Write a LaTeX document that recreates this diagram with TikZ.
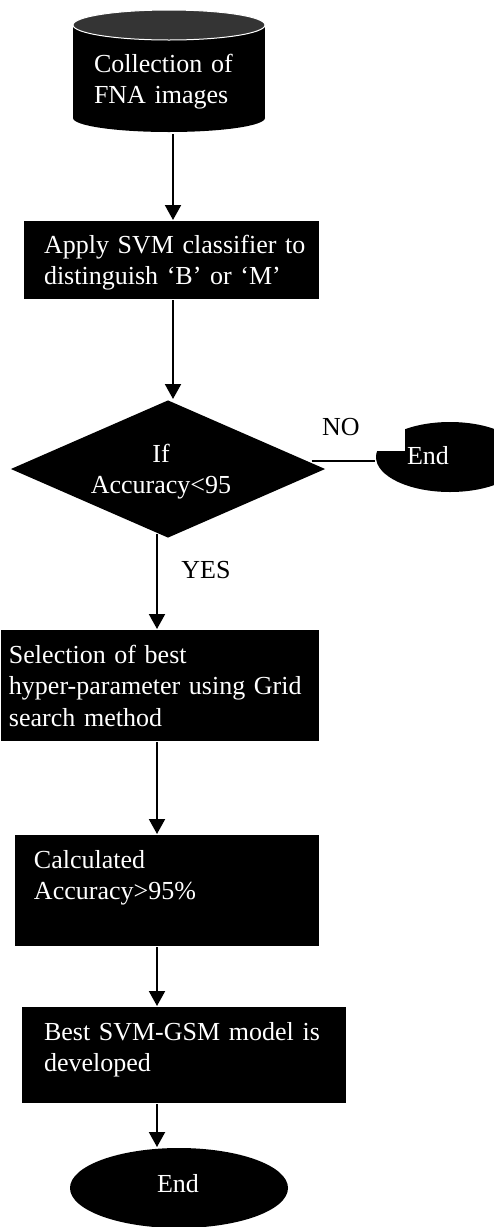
\documentclass[tikz,border=0pt]{standalone}
\usepackage{fontspec}
\setmainfont{Liberation Serif}
\usetikzlibrary{arrows.meta,shapes.geometric}
\definecolor{topgray}{RGB}{52,52,52}
\begin{document}
\begin{tikzpicture}[x=1pt, y=-1pt, >={Triangle[width=16pt,length=15pt]}, line width=2pt,
    blk/.style={fill=black, inner sep=0pt, anchor=north west},
    txt/.style={text=white, font=\fontsize{26}{31.5}\selectfont, text width=330pt, align=left, anchor=base west, inner sep=0pt},
    lbl/.style={font=\fontsize{26}{31.5}\selectfont, anchor=base, inner sep=0pt}]
    \useasboundingbox (0,0) rectangle (494,1227);
    % cylinder at the top
    \fill (73,25) rectangle (265,118);
    \fill (169,118) ellipse[x radius=96, y radius=14];
    \filldraw[fill=topgray, draw=white, line width=1pt] (169,25) ellipse[x radius=96, y radius=15];
    \node[inner sep=0pt, minimum width=192, minimum height=122, anchor=north west] (cyl) at (73,10) {};
    % blocks
    \node[blk, minimum width=295, minimum height=78] (svm) at (23,220) {};
    \node[diamond, fill=black, inner sep=0pt, minimum width=315, minimum height=138] (dec) at (168,469) {};
    \node[ellipse, fill=black, inner sep=0pt, minimum width=148, minimum height=70] (endr) at (450,457) {};
    \fill[white] (370,415) rectangle (405,451);
    \node[blk, minimum width=318, minimum height=111] (sel) at (0,629) {};
    \node[blk, minimum width=304, minimum height=111] (calc) at (14,834) {};
    \node[blk, minimum width=324, minimum height=96] (best) at (21,1006) {};
    \node[ellipse, fill=black, inner sep=0pt, minimum width=218, minimum height=80] (endb) at (179,1188) {};
    % connectors
    \coordinate (axa) at (173,0);
    \coordinate (axb) at (157,0);
    \draw[->] (cyl.south -| axa) -- (svm.north -| axa);
    \draw[->] (svm.south -| axa) -- (dec.north -| axa);
    \draw ([xshift=-15pt,yshift=8pt]dec.east) -- ([yshift=8pt]dec.east -| endr.west);
    \draw[->] ([yshift=5pt]dec.south -| axb) -- (sel.north -| axb);
    \draw[->] (sel.south -| axb) -- (calc.north -| axb);
    \draw[->] (calc.south -| axb) -- (best.north -| axb);
    \draw[->] (best.south -| axb) -- (endb.north -| axb);
    % texts
    \node[txt] (tcyl) at (93,72) {Collection of\\FNA images};
    \node[txt] (tsvm) at (43,253) {Apply SVM classifier to\\distinguish ‘B’ or ‘M’};
    \node[txt, text width=170pt, align=center, anchor=base] (tdec) at (161,462) {If\\Accuracy<95};
    \node[lbl] (no) at (341,435) {NO};
    \node[lbl, text=white] (tendr) at (428,464) {End};
    \node[lbl] (yes) at (206,578) {YES};
    \node[txt] (tsel) at (8,663) {Selection of best\\hyper-parameter using Grid\\search method};
    \node[txt] (tcalc) at (33,868) {Calculated\\Accuracy>95\%};
    \node[txt] (tbest) at (43,1040) {Best SVM-GSM model is\\developed};
    \node[lbl, text=white] (tendb) at (178,1192) {End};
\end{tikzpicture}
\end{document}
